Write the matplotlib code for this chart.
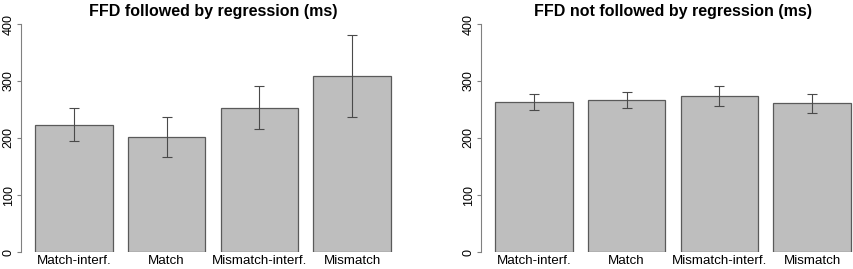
import matplotlib.pyplot as plt
import numpy as np

plt.rcParams['font.family'] = ['Liberation Sans', 'DejaVu Sans']

conditions = ['Match-interf.', 'Match', 'Mismatch-interf.', 'Mismatch']

# FFD followed by regression
reg_mean = [223, 202, 253, 308]
reg_low = [195, 167, 215, 237]
reg_high = [252, 237, 291, 381]

# FFD not followed by regression
noreg_mean = [263, 267, 274, 261]
noreg_low = [250, 253, 257, 244]
noreg_high = [277, 281, 292, 278]

titles = ['FFD followed by regression (ms)', 'FFD not followed by regression (ms)']

W, H = 854, 269
fig = plt.figure(figsize=(W / 100, H / 100), dpi=100)

# R-style barplot positions: width 1, space 0.2
x = 0.7 + 1.2 * np.arange(len(conditions))

panels = [(reg_mean, reg_low, reg_high), (noreg_mean, noreg_low, noreg_high)]
lefts = [21, 481]
for (mean, low, high), title, left in zip(panels, titles, lefts):
    ax = fig.add_axes([left / W, (H - 252) / H, 384 / W, 228 / H])
    mean = np.array(mean)
    yerr = [mean - np.array(low), np.array(high) - mean]
    ax.bar(x, mean, width=1.0, color='#bebebe', edgecolor='#5a5a5a', linewidth=0.9)
    ax.errorbar(x, mean, yerr=yerr, fmt='none', ecolor='#4a4a4a', elinewidth=0.8,
                capsize=3.5, capthick=0.8, clip_on=False)
    ax.set_xlim(0.016, 4.984)
    ax.set_ylim(0, 400)
    for s in ['top', 'right', 'bottom']:
        ax.spines[s].set_visible(False)
    ax.spines['left'].set_color('#808080')
    ax.spines['left'].set_linewidth(0.8)
    ax.set_yticks([0, 100, 200, 300, 400])
    ax.tick_params(axis='y', labelsize=9, length=3, pad=1.5, color='#808080')
    for lab in ax.get_yticklabels():
        lab.set_rotation(90)
        lab.set_va('center')
    ax.set_xticks(x)
    ax.set_xticklabels(conditions)
    ax.tick_params(axis='x', length=0, labelsize=9.6, pad=2.5)
    ax.set_title(title, fontsize=11.5, fontweight='bold', pad=6)
    ax.patch.set_visible(False)

fig.savefig('out.png', dpi=100)
